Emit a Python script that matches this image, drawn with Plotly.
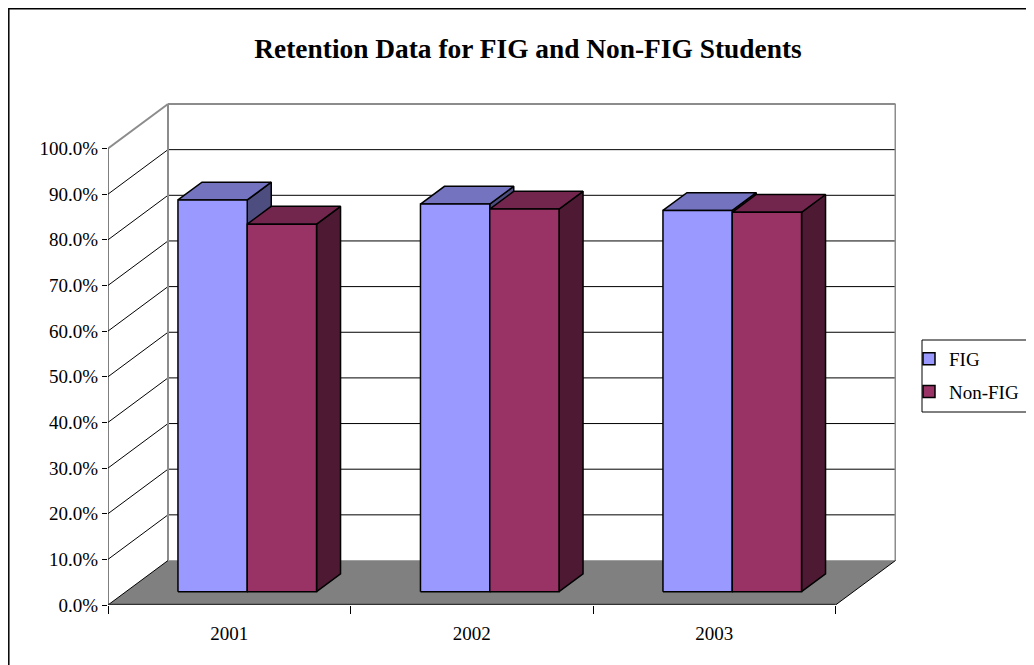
import plotly.graph_objects as go

# ---------------- data ----------------
years = ["2001", "2002", "2003"]
fig_values = [0.858, 0.849, 0.835]
nonfig_values = [0.805, 0.838, 0.831]
series_names = ["FIG", "Non-FIG"]
y_ticks = [0.0, 0.1, 0.2, 0.3, 0.4, 0.5, 0.6, 0.7, 0.8, 0.9, 1.0]

# ---------------- styling / geometry ----------------
FONT = "Liberation Serif"
front_colors = ["#9999FF", "#993366"]
top_colors = ["#7373C0", "#73264D"]
side_colors = ["#4D4D80", "#4D1933"]

W, H = 1034, 665
OFF = 8                                  # page body margin in the browser
L, R, T, B = 108 - OFF, 896 - OFF, 103 - OFF, 605 - OFF   # plot area (figure px)
UX, UY = 242.5, 456.5                  # pixels per category / per 100%
X0 = -0.5
X1 = X0 + (R - L) / UX
Y1 = (B - T) / UY
DX, DY = 60 / UX, 44.5 / UY            # full floor depth in data units
F0, F1 = 0.3, 0.7                      # bar depth position (fraction of floor depth)
BW = 1 / 3.5                           # bar width (gap width 150%)
GAP = 0.75 * BW
XE = len(years) - 0.5                  # right end of front floor


def poly(xs, ys, fill, line_color=None, lw=0):
    return go.Scatter(
        x=list(xs) + [xs[0]], y=list(ys) + [ys[0]], mode="lines", fill="toself",
        fillcolor=fill,
        line=dict(color=line_color if line_color else fill, width=lw if line_color else 0),
        hoverinfo="skip", showlegend=False,
    )


def segs(pairs, color, width):
    xs, ys = [], []
    for (xa, ya), (xb, yb) in pairs:
        xs += [xa, xb, None]
        ys += [ya, yb, None]
    return go.Scatter(x=xs, y=ys, mode="lines", line=dict(color=color, width=width),
                      hoverinfo="skip", showlegend=False)


fig = go.Figure()

# walls
fig.add_trace(poly([X0 + DX, XE + DX, XE + DX, X0 + DX], [DY, DY, 1 + DY, 1 + DY], "white"))
fig.add_trace(poly([X0, X0 + DX, X0 + DX, X0], [0, DY, 1 + DY, 1], "white"))

# gridlines on walls
inner = y_ticks[1:-1]
fig.add_trace(segs([((X0 + DX, v + DY), (XE + DX, v + DY)) for v in inner], "black", 1))
fig.add_trace(segs([((X0, v), (X0 + DX, v + DY)) for v in inner], "black", 1))

# wall edges
top = y_ticks[-1]
fig.add_trace(segs([
    ((X0, top), (X0 + DX, top + DY)),
    ((X0 + DX, top + DY), (XE + DX, top + DY)),
    ((X0 + DX, DY), (X0 + DX, top + DY)),
    ((XE + DX, DY), (XE + DX, top + DY)),
], "#8C8C8C", 2))

# floor
fig.add_trace(poly([X0, XE, XE + DX, X0 + DX], [0, 0, DY, DY], "#808080"))
fig.add_trace(segs([((X0 + DX, DY), (XE + DX, DY))], "#A0A0A0", 1))
fig.add_trace(segs([((XE, 0), (XE + DX, DY)), ((X0, 0), (X0 + DX, DY))], "black", 1))
fig.add_trace(segs([((X0, 0), (XE, 0))], "#333333", 2.5))
# front value axis line
fig.add_trace(segs([((X0, 0), (X0, top))], "black", 1))

# bars
d = (F1 - F0) * DX
e = (F1 - F0) * DY
for i in range(len(years)):
    for s, vals in enumerate([fig_values, nonfig_values]):
        v = vals[i]
        xl = i - 0.5 + GAP + s * BW + F0 * DX
        xr = xl + BW
        yb = F0 * DY
        yt = yb + v
        fig.add_trace(poly([xr, xr + d, xr + d, xr], [yb, yb + e, yt + e, yt],
                           side_colors[s], "black", 1.5))
        fig.add_trace(poly([xl, xr, xr + d, xl + d], [yt, yt, yt + e, yt + e],
                           top_colors[s], "black", 1.5))
        fig.add_trace(poly([xl, xr, xr, xl], [yb, yb, yt, yt],
                           front_colors[s], "black", 1.5))

# legend entries + category axis
for s, name in enumerate(series_names):
    fig.add_trace(go.Bar(x=years, y=[None] * len(years), name=name, xaxis="x2",
                         legendgroup=name,
                         marker=dict(color=front_colors[s], line=dict(color="black", width=1.5))))


def px_to_paper_x(p):
    return (p - OFF - L) / (R - L)


def px_to_paper_y(p):
    return (B - (p - OFF)) / (B - T)


fig.update_layout(
    width=W, height=H,
    margin=dict(l=L, r=W - R, t=T, b=H - B, pad=0, autoexpand=False),
    paper_bgcolor="white", plot_bgcolor="rgba(0,0,0,0)",
    hovermode=False,
    barmode="overlay",
    title=dict(text="<b>Retention Data for FIG and Non-FIG Students</b>",
               x=(528 - OFF) / W, xref="container", xanchor="center",
               y=1 - (48 - OFF) / H, yref="container", yanchor="middle",
               font=dict(family=FONT, size=27.4, color="black")),
    xaxis=dict(range=[X0, X1], showgrid=False, zeroline=False, showticklabels=False,
               ticks="", showline=False, fixedrange=True, automargin=False),
    xaxis2=dict(type="category", overlaying="x", side="bottom", range=[X0, X1],
                categoryorder="array", categoryarray=years, automargin=False,
                tickson="boundaries", ticks="outside", ticklen=8, tickcolor="black",
                ticklabelstandoff=15,
                showgrid=False, zeroline=False, showline=False,
                tickfont=dict(family=FONT, size=19, color="black")),
    yaxis=dict(range=[0, Y1], tickvals=y_ticks, tickformat=".1%", automargin=False,
               ticks="outside", ticklen=5, tickcolor="black",
               showgrid=False, zeroline=False, showline=False,
               tickfont=dict(family=FONT, size=19, color="black")),
    legend=dict(x=(909 - OFF) / W, xref="container", xanchor="left",
                y=1 - (340 - OFF) / H, yref="container", yanchor="top",
                borderwidth=0, bgcolor="rgba(0,0,0,0)",
                font=dict(family=FONT, size=19, color="black"),
                traceorder="grouped", tracegroupgap=5),
    shapes=[
        dict(type="rect", xref="paper", yref="paper",
             x0=px_to_paper_x(8.8), x1=px_to_paper_x(1050),
             y0=px_to_paper_y(680), y1=px_to_paper_y(8.8),
             line=dict(color="black", width=1.5), fillcolor="rgba(0,0,0,0)", layer="below"),
        dict(type="rect", xref="paper", yref="paper",
             x0=px_to_paper_x(922), x1=px_to_paper_x(1050),
             y0=px_to_paper_y(412), y1=px_to_paper_y(340),
             line=dict(color="black", width=1), fillcolor="white", layer="below"),
    ],
)

fig.write_html("out.html")
